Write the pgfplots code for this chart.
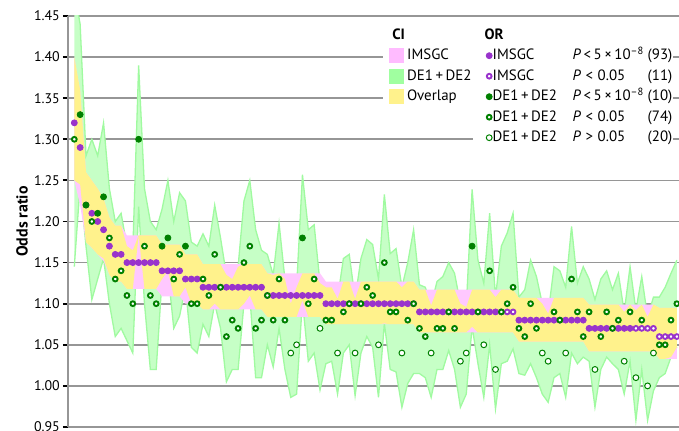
\documentclass[border=0pt]{standalone}
\usepackage{fontspec}
\setmainfont{PT Sans}
\usepackage{pgfplots}
\pgfplotsset{compat=1.18}
\usepackage{pgfplotstable}
\usepgfplotslibrary{fillbetween}

\definecolor{orpurple}{RGB}{153,51,204}
\definecolor{dkgreen}{RGB}{0,128,0}
\definecolor{bandgreen}{RGB}{198,255,198}
\definecolor{edgegreen}{RGB}{160,250,160}
\definecolor{swgreen}{RGB}{160,255,160}
\definecolor{bandpink}{RGB}{255,200,255}
\definecolor{swpink}{RGB}{255,187,255}
\definecolor{bandyellow}{RGB}{255,242,140}
\definecolor{gridgrey}{RGB}{150,150,150}

% i: locus rank; oI/cI: IMSGC OR and class; iL/iU: IMSGC CI
% oD/cD: DE1+DE2 OR and class; dL/dU: DE1+DE2 CI; yL/yU: overlap of both CIs
\pgfplotstableread{
i oI cI iL iU oD cD dL dU yL yU
1 1.32 f 1.250 1.400 1.30 h 1.145 1.480 1.250 1.400
2 1.29 f 1.220 1.360 1.33 f 1.245 1.440 1.245 1.360
3 1.22 f 1.175 1.260 1.22 f 1.170 1.280 1.175 1.260
4 1.21 f 1.168 1.250 1.20 h 1.105 1.300 1.168 1.250
5 1.20 f 1.160 1.240 1.21 f 1.130 1.280 1.160 1.240
6 1.19 f 1.152 1.228 1.23 f 1.155 1.320 1.155 1.228
7 1.17 f 1.135 1.205 1.18 h 1.100 1.240 1.135 1.205
8 1.16 f 1.127 1.195 1.13 h 1.060 1.200 1.127 1.195
9 1.16 f 1.127 1.195 1.14 h 1.070 1.210 1.127 1.195
10 1.15 f 1.118 1.183 1.11 h 1.055 1.170 1.118 1.170
11 1.15 f 1.118 1.183 1.10 h 1.040 1.165 1.118 1.165
12 1.15 f 1.118 1.183 1.30 f 1.218 1.390 1.183 1.183
13 1.15 f 1.118 1.183 1.17 h 1.100 1.240 1.118 1.183
14 1.15 f 1.118 1.183 1.11 h 1.020 1.200 1.118 1.183
15 1.15 f 1.118 1.183 1.10 h 1.020 1.190 1.118 1.183
16 1.14 f 1.109 1.172 1.17 f 1.130 1.215 1.130 1.172
17 1.14 f 1.109 1.172 1.18 f 1.140 1.250 1.140 1.172
18 1.14 f 1.109 1.172 1.13 h 1.070 1.200 1.109 1.172
19 1.14 f 1.109 1.172 1.16 h 1.085 1.235 1.109 1.172
20 1.13 f 1.100 1.160 1.17 f 1.120 1.225 1.120 1.160
21 1.13 f 1.100 1.160 1.10 h 1.047 1.175 1.100 1.160
22 1.13 f 1.100 1.160 1.10 h 1.040 1.170 1.100 1.160
23 1.12 f 1.093 1.148 1.13 h 1.075 1.185 1.093 1.148
24 1.12 f 1.093 1.148 1.11 h 1.060 1.170 1.093 1.148
25 1.12 f 1.093 1.148 1.16 h 1.100 1.220 1.100 1.148
26 1.12 f 1.093 1.148 1.12 h 1.070 1.180 1.093 1.148
27 1.12 f 1.093 1.148 1.06 h 1.005 1.135 1.093 1.135
28 1.12 f 1.093 1.148 1.08 h 1.020 1.130 1.093 1.130
29 1.12 f 1.093 1.148 1.07 h 1.020 1.145 1.093 1.145
30 1.12 f 1.093 1.148 1.15 h 1.100 1.225 1.100 1.148
31 1.12 f 1.093 1.148 1.17 h 1.110 1.250 1.110 1.148
32 1.12 f 1.093 1.148 1.07 h 1.010 1.190 1.093 1.148
33 1.12 f 1.093 1.148 1.08 h 1.010 1.165 1.093 1.148
34 1.11 f 1.084 1.137 1.11 h 1.050 1.160 1.084 1.137
35 1.11 f 1.084 1.137 1.08 h 1.023 1.135 1.084 1.135
36 1.11 f 1.084 1.137 1.13 h 1.070 1.198 1.084 1.137
37 1.11 f 1.084 1.137 1.08 h 1.020 1.130 1.084 1.130
38 1.11 f 1.084 1.137 1.04 w 0.986 1.100 1.084 1.100
39 1.11 f 1.084 1.137 1.05 w 0.990 1.120 1.084 1.120
40 1.11 f 1.084 1.137 1.18 f 1.104 1.257 1.104 1.137
41 1.11 f 1.084 1.137 1.10 h 1.030 1.190 1.084 1.137
42 1.11 f 1.084 1.137 1.13 h 1.040 1.196 1.084 1.137
43 1.11 f 1.084 1.137 1.07 w 0.995 1.125 1.084 1.125
44 1.10 f 1.075 1.127 1.08 h 1.027 1.120 1.075 1.120
45 1.10 f 1.075 1.127 1.08 h 1.030 1.120 1.075 1.120
46 1.10 f 1.075 1.127 1.04 w 0.990 1.106 1.075 1.106
47 1.10 f 1.075 1.127 1.09 h 1.040 1.155 1.075 1.127
48 1.10 f 1.075 1.127 1.10 h 1.050 1.160 1.075 1.127
49 1.10 f 1.075 1.127 1.04 w 0.988 1.106 1.075 1.106
50 1.10 f 1.075 1.127 1.10 h 1.040 1.155 1.075 1.127
51 1.10 f 1.075 1.127 1.12 h 1.060 1.178 1.075 1.127
52 1.10 f 1.075 1.127 1.11 h 1.047 1.172 1.075 1.127
53 1.10 f 1.075 1.127 1.05 w 0.986 1.130 1.075 1.127
54 1.10 f 1.075 1.127 1.15 h 1.076 1.233 1.076 1.127
55 1.10 f 1.075 1.127 1.09 h 1.020 1.161 1.075 1.127
56 1.10 f 1.075 1.127 1.09 h 1.017 1.167 1.075 1.127
57 1.10 f 1.075 1.127 1.04 w 0.974 1.120 1.075 1.120
58 1.10 f 1.075 1.127 1.08 h 1.003 1.150 1.075 1.127
59 1.10 f 1.075 1.127 1.10 h 1.015 1.190 1.075 1.127
60 1.09 f 1.065 1.117 1.07 h 1.015 1.123 1.065 1.117
61 1.09 f 1.065 1.117 1.06 h 1.010 1.120 1.065 1.117
62 1.09 f 1.065 1.117 1.04 w 0.986 1.098 1.065 1.098
63 1.09 f 1.065 1.117 1.07 h 1.020 1.127 1.065 1.117
64 1.09 f 1.065 1.117 1.07 h 1.020 1.133 1.065 1.117
65 1.09 f 1.065 1.117 1.09 h 1.043 1.150 1.065 1.117
66 1.09 f 1.065 1.117 1.07 h 1.020 1.137 1.065 1.117
67 1.09 f 1.065 1.117 1.03 w 0.974 1.100 1.065 1.100
68 1.09 f 1.065 1.117 1.04 w 0.990 1.096 1.065 1.096
69 1.09 f 1.065 1.117 1.17 f 1.072 1.239 1.072 1.117
70 1.09 f 1.065 1.117 1.09 h 1.027 1.153 1.065 1.117
71 1.09 f 1.065 1.117 1.05 w 0.986 1.125 1.065 1.117
72 1.09 f 1.065 1.117 1.14 h 1.050 1.210 1.065 1.117
73 1.09 f 1.065 1.117 1.02 w 0.972 1.108 1.065 1.108
74 1.09 h 1.065 1.117 1.09 h 1.027 1.170 1.065 1.117
75 1.09 h 1.065 1.117 1.10 h 1.030 1.186 1.065 1.117
76 1.09 h 1.065 1.117 1.12 h 1.045 1.210 1.065 1.117
77 1.08 f 1.054 1.107 1.07 h 1.015 1.108 1.054 1.107
78 1.08 f 1.054 1.107 1.06 h 1.013 1.117 1.054 1.107
79 1.08 f 1.054 1.107 1.10 h 1.027 1.153 1.054 1.107
80 1.08 f 1.054 1.107 1.07 h 1.010 1.133 1.054 1.107
81 1.08 f 1.054 1.107 1.04 w 0.990 1.100 1.054 1.100
82 1.08 f 1.054 1.107 1.03 w 0.980 1.088 1.054 1.088
83 1.08 f 1.054 1.107 1.09 h 1.010 1.145 1.054 1.107
84 1.08 f 1.054 1.107 1.08 h 1.015 1.140 1.054 1.107
85 1.08 f 1.054 1.107 1.04 w 0.986 1.120 1.054 1.107
86 1.08 f 1.054 1.107 1.13 h 1.040 1.194 1.054 1.107
87 1.08 f 1.054 1.107 1.09 h 1.027 1.125 1.054 1.107
88 1.08 f 1.054 1.107 1.06 h 1.035 1.145 1.054 1.107
89 1.07 f 1.042 1.099 1.09 h 1.030 1.130 1.042 1.099
90 1.07 f 1.042 1.099 1.02 w 0.974 1.105 1.042 1.099
91 1.07 f 1.042 1.099 1.06 h 1.020 1.130 1.042 1.099
92 1.07 f 1.042 1.099 1.09 h 1.035 1.140 1.042 1.099
93 1.07 f 1.042 1.099 1.07 h 1.027 1.117 1.042 1.099
94 1.07 f 1.042 1.099 1.08 h 1.020 1.137 1.042 1.099
95 1.07 f 1.042 1.099 1.03 w 0.990 1.090 1.042 1.090
96 1.07 f 1.042 1.099 1.09 h 1.030 1.145 1.042 1.099
97 1.07 h 1.042 1.099 1.01 w 0.958 1.092 1.042 1.092
98 1.07 h 1.042 1.099 1.08 h 1.020 1.133 1.042 1.099
99 1.07 h 1.042 1.099 1.00 w 0.958 1.084 1.042 1.084
100 1.07 h 1.042 1.099 1.04 w 0.994 1.108 1.042 1.099
101 1.06 h 1.033 1.095 1.05 h 1.010 1.108 1.033 1.095
102 1.06 h 1.033 1.095 1.05 h 1.015 1.120 1.033 1.095
103 1.06 h 1.033 1.095 1.08 h 1.035 1.137 1.035 1.095
104 1.06 h 1.033 1.095 1.10 h 1.047 1.153 1.047 1.095
}\loci

\newcommand{\orrow}[3]{\makebox[80bp][l]{#1}\makebox[75bp][l]{#2}#3}
\newcommand{\pstar}{\textit{P}\,<\,5\,×\,10\textsuperscript{–8}}

\begin{document}
\begin{tikzpicture}
\begin{axis}[
    x=5.85bp, y=822bp,
    xmin=-0.077, xmax=105,
    ymin=0.95, ymax=1.45,
    clip mode=individual,
    axis lines*=left,
    axis line style={gridgrey, line width=2bp},
    xtick=\empty,
    ytick={0.95,1.00,1.05,1.10,1.15,1.20,1.25,1.30,1.35,1.40,1.45},
    tick align=outside,
    major tick length=5bp,
    major tick style={black, line width=1.8bp},
    ymajorgrids,
    major grid style={gridgrey, line width=1.7bp},
    yticklabel style={font=\fontsize{14}{16}\selectfont, inner sep=0pt, xshift=-3bp,
      /pgf/number format/fixed, /pgf/number format/fixed zerofill,
      /pgf/number format/precision=2, /pgf/number format/assume math mode=true},
    ylabel={\textbf{Odds ratio}},
    ylabel style={font=\fontsize{16}{19}\selectfont, inner sep=0pt},
    ylabel shift=6bp,
    legend style={at={(axis cs:71.29,1.436)}, anchor=north west, draw=none, fill=none,
      inner sep=0pt, font=\fontsize{15}{18}\selectfont, row sep=5.5bp, column sep=0.5bp,
      nodes={inner sep=0pt, text height=11.5bp, text depth=3.5bp}},
    legend cell align=left,
    legend image code/.code={\draw[#1] plot coordinates {(3.5bp,0bp)};},
]
% DE1+DE2 confidence band
\addplot[name path=dU, draw=none, forget plot] table[x=i, y=dU]{\loci};
\addplot[name path=dL, draw=none, forget plot] table[x=i, y=dL]{\loci};
\addplot[fill=bandgreen, draw=none, forget plot] fill between[of=dU and dL];
\addplot[draw=edgegreen, line width=1.3bp, on layer=pre main, forget plot] table[x=i, y=dU]{\loci};
\addplot[draw=edgegreen, line width=1.3bp, on layer=pre main, forget plot] table[x=i, y=dL]{\loci};
% IMSGC confidence band
\addplot[name path=iU, draw=none, forget plot] table[x=i, y=iU]{\loci};
\addplot[name path=iL, draw=none, forget plot] table[x=i, y=iL]{\loci};
\addplot[fill=bandpink, draw=none, forget plot] fill between[of=iU and iL];
% overlap
\addplot[name path=yU, draw=none, forget plot] table[x=i, y=yU]{\loci};
\addplot[name path=yL, draw=none, forget plot] table[x=i, y=yL]{\loci};
\addplot[fill=bandyellow, draw=none, forget plot] fill between[of=yU and yL];

% odds ratios
\addplot[forget plot, scatter, only marks, point meta=explicit symbolic,
  scatter/classes={
    f={mark=*, mark size=3bp, draw=orpurple, fill=orpurple, line width=0.8bp},
    h={mark=*, mark size=2.4bp, draw=orpurple, fill=white, line width=1.9bp}}]
  table[x=i, y=oI, meta=cI]{\loci};
\addplot[forget plot, scatter, only marks, point meta=explicit symbolic,
  scatter/classes={
    f={mark=*, mark size=3bp, draw=dkgreen, fill=dkgreen, line width=0.8bp},
    h={mark=*, mark size=2.4bp, draw=dkgreen, fill=white, line width=1.9bp},
    w={mark=*, mark size=2.9bp, draw=dkgreen, fill=white, line width=1bp}}]
  table[x=i, y=oD, meta=cD]{\loci};

% white ground behind the legends
\fill[white] (axis cs:53.77,1.4464) rectangle (axis cs:103.34,1.3332);
\fill[white] (axis cs:69.15,1.4464) rectangle (axis cs:103.34,1.2894);

\addlegendimage{empty legend}
\addlegendentry{\hspace*{-8bp}\textbf{OR}}
\addlegendimage{only marks, mark=*, mark size=3bp, mark options={draw=orpurple, fill=orpurple, line width=0.8bp}}
\addlegendentry{\orrow{IMSGC}{\pstar}{(93)}}
\addlegendimage{only marks, mark=*, mark size=2.4bp, mark options={draw=orpurple, fill=white, line width=1.9bp}}
\addlegendentry{\orrow{IMSGC}{\textit{P}\hspace{0.3em}<\hspace{0.3em}0.05}{(11)}}
\addlegendimage{only marks, mark=*, mark size=3bp, mark options={draw=dkgreen, fill=dkgreen, line width=0.8bp}}
\addlegendentry{\orrow{DE1\,+\,DE2}{\pstar}{(10)}}
\addlegendimage{only marks, mark=*, mark size=2.4bp, mark options={draw=dkgreen, fill=white, line width=1.9bp}}
\addlegendentry{\orrow{DE1\,+\,DE2}{\textit{P}\hspace{0.3em}<\hspace{0.3em}0.05}{(74)}}
\addlegendimage{only marks, mark=*, mark size=2.9bp, mark options={draw=dkgreen, fill=white, line width=1bp}}
\addlegendentry{\orrow{DE1\,+\,DE2}{\textit{P}\hspace{0.3em}>\hspace{0.3em}0.05}{(20)}}

\coordinate (pbl) at (axis cs:-11.701,0.94513);
\coordinate (ptr) at (axis cs:104.368,1.46946);
\end{axis}

% CI legend
\begin{axis}[
    hide axis,
    x=5.85bp, y=822bp,
    xmin=-0.077, xmax=105,
    ymin=0.95, ymax=1.45,
    legend style={at={(axis cs:54.79,1.436)}, anchor=north west, draw=none, fill=none,
      inner sep=0pt, font=\fontsize{15}{18}\selectfont, row sep=5.5bp, column sep=3bp,
      nodes={inner sep=0pt, text height=11.5bp, text depth=3.5bp}},
    legend cell align=left,
    legend image code/.code={\fill[#1] (0bp,-7.5bp) rectangle (15bp,7.5bp);},
]
\addlegendimage{empty legend}
\addlegendentry{\hspace*{-18bp}\textbf{CI}}
\addlegendimage{fill=swpink, draw=none}
\addlegendentry{IMSGC}
\addlegendimage{fill=swgreen, draw=none}
\addlegendentry{DE1\,+\,DE2}
\addlegendimage{fill=bandyellow, draw=none}
\addlegendentry{Overlap}
\end{axis}

\pgfresetboundingbox
\path[use as bounding box] (pbl) rectangle (ptr);
\end{tikzpicture}
\end{document}
